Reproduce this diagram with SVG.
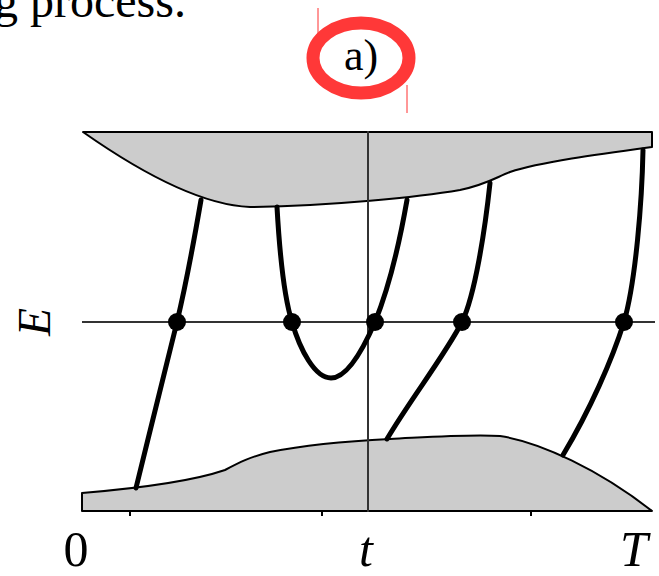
<svg xmlns="http://www.w3.org/2000/svg" width="659" height="576" viewBox="0 0 659 576">
<style>
.band{fill:#cccccc;stroke:#000;stroke-width:2;stroke-linejoin:round}
.axis{stroke:#333;stroke-width:2;fill:none}
.traj{stroke:#000;stroke-width:5;fill:none;stroke-linecap:round}
.dot{fill:#000}
.lbl{font-family:"Liberation Serif","DejaVu Serif",serif;fill:#000}
.tick{stroke:#000;stroke-width:2}
</style>
<rect width="659" height="576" fill="#fff"/>
<g id="header">
<text class="lbl" x="-30" y="17" font-size="48">ng process.</text>
<line x1="318" y1="8" x2="318" y2="40" stroke="#ff3030" stroke-width="1"/>
<line x1="407" y1="85" x2="407" y2="113" stroke="#ff3030" stroke-width="1"/>
<text class="lbl" x="344" y="70" font-size="44">a)</text>
<ellipse cx="361" cy="58" rx="48" ry="35" fill="none" stroke="#ff3838" stroke-width="13"/>
</g>
<g id="top-band">
<path class="band" d="M83,132 L652,132 L652,147 C600,154 540,162 510,172 C495,178 485,185 460,190 C420,197 330,206 250,207 C200,205 140,172 83,132 Z"/>
</g>
<g id="bottom-band">
<path class="band" d="M82,511 L82,493 C130,489 190,482 225,470 C240,462 250,457 270,452 C310,444 350,441 390,439 C430,437 470,434 500,436 C540,442 600,470 652,511 Z"/>
<line class="tick" x1="130" y1="511" x2="130" y2="516"/>
<line class="tick" x1="322" y1="511" x2="322" y2="516"/>
<line class="tick" x1="531" y1="511" x2="531" y2="516"/>
</g>
<g id="axes">
<line class="axis" x1="368" y1="131" x2="368" y2="512"/>
<line class="axis" x1="82" y1="322" x2="655" y2="322"/>
</g>
<g id="connectors">
<path class="traj" d="M136,488 C150,430 168,360 177,322 C186,284 195,235 201,200"/>
<path class="traj" d="M277,207 C280,260 285,300 292,322 C300,350 315,378 331,378 C348,378 365,345 375,322 C390,285 400,240 407,200"/>
<path class="traj" d="M387,439 C410,400 445,355 462,322 C475,295 485,230 490,183"/>
<path class="traj" d="M563,455 C590,410 612,360 624,322 C636,280 642,200 643,150"/>
</g>
<g id="points">
<circle class="dot" cx="177" cy="322" r="9"/>
<circle class="dot" cx="292" cy="322" r="9"/>
<circle class="dot" cx="375" cy="322" r="9"/>
<circle class="dot" cx="462" cy="322" r="9"/>
<circle class="dot" cx="624" cy="322" r="9"/>
</g>
<g id="labels">
<text class="lbl" x="76" y="566" font-size="50" text-anchor="middle">0</text>
<text class="lbl" x="366" y="566" font-size="50" font-style="italic" text-anchor="middle">t</text>
<text class="lbl" x="634" y="566" font-size="50" font-style="italic" text-anchor="middle">T</text>
<text class="lbl" x="0" y="0" font-size="46" font-style="italic" text-anchor="middle" transform="translate(50,322) rotate(-90)">E</text>
</g>
</svg>
